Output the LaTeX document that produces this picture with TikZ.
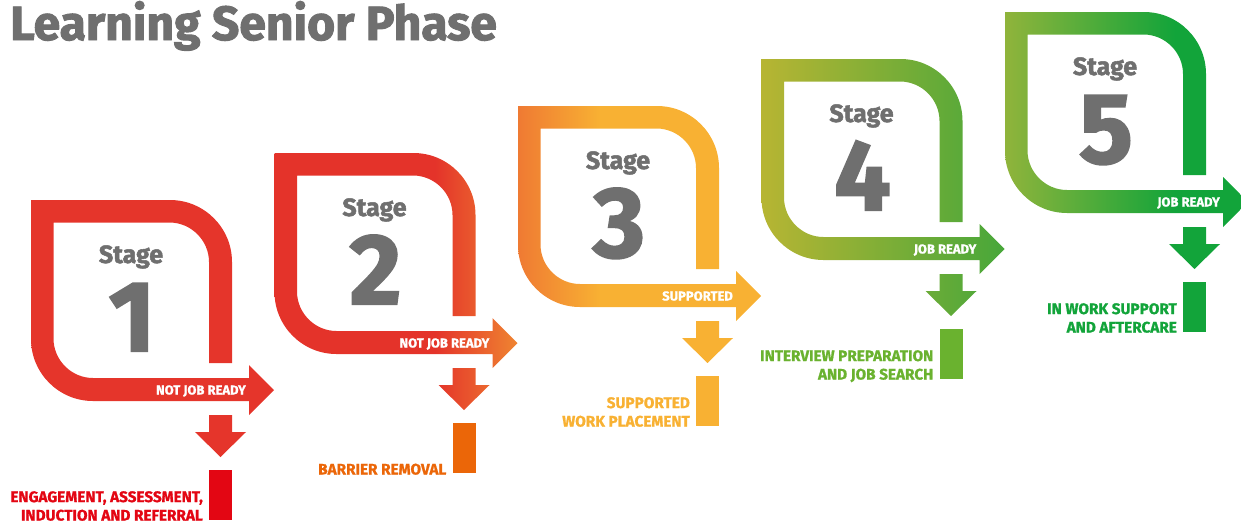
\documentclass[tikz,border=0pt]{standalone}
\usepackage{fontspec}
\setmainfont{Fira Sans}[BoldFeatures={FakeBold=1}]
\newfontfamily\heavyfont{Fira Sans}[BoldFeatures={FakeBold=2}]
\definecolor{sgray}{HTML}{6F6F6F}
\definecolor{sA}{HTML}{E5352B}
\definecolor{bA}{HTML}{E30613}
\definecolor{sBa}{HTML}{E4332A}
\definecolor{sBb}{HTML}{EF8431}
\definecolor{bB}{HTML}{EB6608}
\definecolor{sCa}{HTML}{EF7A33}
\definecolor{sCb}{HTML}{F8B133}
\definecolor{bC}{HTML}{F8B133}
\definecolor{sDa}{HTML}{B7B533}
\definecolor{sDb}{HTML}{47A73A}
\definecolor{bD}{HTML}{6AB22F}
\definecolor{sEa}{HTML}{90B43B}
\definecolor{sEb}{HTML}{12A43A}
\definecolor{bE}{HTML}{12A43A}
\pgfdeclarehorizontalshading{shA}{100bp}{color(0bp)=(sA); color(100bp)=(sA)}
\pgfdeclarehorizontalshading{shB}{100bp}{color(0bp)=(sBa); color(58bp)=(sBa); color(75bp)=(sBb); color(100bp)=(sBb)}
\pgfdeclarehorizontalshading{shC}{100bp}{color(0bp)=(sCa); color(25bp)=(sCa); color(42bp)=(sCb); color(100bp)=(sCb)}
\pgfdeclarehorizontalshading{shD}{100bp}{color(0bp)=(sDa); color(25bp)=(sDa); color(75bp)=(sDb); color(100bp)=(sDb)}
\pgfdeclarehorizontalshading{shE}{100bp}{color(0bp)=(sEa); color(25bp)=(sEa); color(60bp)=(sEb); color(100bp)=(sEb)}
\tikzset{
  lbl/.style={font=\bfseries\fontsize{13}{13}\selectfont, text=white, anchor=base east, inner sep=0pt},
  stg/.style={font=\heavyfont\bfseries\fontsize{25}{25}\selectfont, text=sgray, anchor=base, inner sep=0pt},
  num/.style={font=\heavyfont\bfseries\fontsize{100}{100}\selectfont, text=sgray, anchor=base, inner sep=0pt},
  bartext/.style={font=\bfseries\fontsize{15.3}{18.5}\selectfont, anchor=base east, inner sep=0pt, align=right},
}
\newcommand\stageshape[1]{%
  \path[shading=#1]
    (201,163) -- (201,62) .. controls (201,27.8) and (173.2,0) .. (139,0) -- (0,0) -- (0,139)
    .. controls (0,173.2) and (27.8,201) .. (62,201) -- (218,201) -- (218,215) -- (243,190)
    -- (218,165) -- (218,178) -- (62,178) .. controls (40.4,178) and (22.5,160.1) .. (22.5,138.5)
    -- (22.5,22.5) -- (138.5,22.5) .. controls (160.1,22.5) and (178,40.4) .. (178,62) -- (178,163) -- cycle
    (178,215) -- (201,215) -- (201,232) -- (215,232) -- (189.5,257) -- (164,232) -- (178,232) -- cycle;}
\begin{document}
\begin{tikzpicture}[x=1pt,y=-1pt]
\useasboundingbox (0,0) rectangle (1241,520);
\node[font=\heavyfont\bfseries\fontsize{48}{48}\selectfont, text=sgray, anchor=base west, inner sep=0pt] (title) at (10,40) {Learning Senior Phase};
% Stage 1
\begin{scope}[shift={(31,200)}]
  \stageshape{shA}
  \fill[bA] (178,270) rectangle (201,320);
  \node[stg] (s1) at (100,63) {Stage};
  \node[num] (n1) at (101,151) {1};
  \node[lbl] (l1) at (215,194.5) {NOT JOB READY};
  \node[bartext, text=bA, anchor=north east] (c1) at (172,291) {ENGAGEMENT, ASSESSMENT,\\INDUCTION AND REFERRAL};
\end{scope}
% Stage 2
\begin{scope}[shift={(274.5,153)}]
  \stageshape{shB}
  \fill[bB] (178,270) rectangle (201,320);
  \node[stg] (s2) at (100,63) {Stage};
  \node[num] (n2) at (101,151) {2};
  \node[lbl] (l2) at (215,194.5) {NOT JOB READY};
  \node[bartext, text=bB] (c2) at (172,321.5) {BARRIER REMOVAL};
\end{scope}
% Stage 3
\begin{scope}[shift={(518,106)}]
  \stageshape{shC}
  \fill[bC] (178,270) rectangle (201,320);
  \node[stg] (s3) at (100,63) {Stage};
  \node[num] (n3) at (101,151) {3};
  \node[lbl] (l3) at (215,194.5) {SUPPORTED};
  \node[bartext, text=bC, anchor=north east] (c3) at (172,291) {SUPPORTED\\WORK PLACEMENT};
\end{scope}
% Stage 4
\begin{scope}[shift={(761.5,59)}]
  \stageshape{shD}
  \fill[bD] (178,270) rectangle (201,320);
  \node[stg] (s4) at (100,63) {Stage};
  \node[num] (n4) at (101,151) {4};
  \node[lbl] (l4) at (215,194.5) {JOB READY};
  \node[bartext, text=bD, anchor=north east] (c4) at (172,291) {INTERVIEW PREPARATION\\AND JOB SEARCH};
\end{scope}
% Stage 5
\begin{scope}[shift={(1005,12)}]
  \stageshape{shE}
  \fill[bE] (178,270) rectangle (201,320);
  \node[stg] (s5) at (100,63) {Stage};
  \node[num] (n5) at (101,151) {5};
  \node[lbl] (l5) at (215,194.5) {JOB READY};
  \node[bartext, text=bE, anchor=north east] (c5) at (172,291) {IN WORK SUPPORT\\AND AFTERCARE};
\end{scope}
\end{tikzpicture}
\end{document}
